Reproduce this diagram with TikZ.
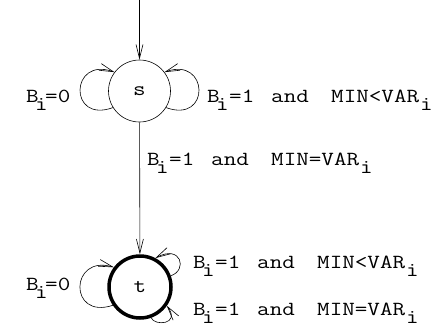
\documentclass[tikz,border=0pt]{standalone}
\usepackage{graphicx}
\usetikzlibrary{arrows.meta}
\newcommand{\wide}[1]{\scalebox{1.22}[1]{#1}}
\newcommand{\lsub}{\raisebox{-8pt}{\wide{i}}}
\newcommand{\lpart}[2]{\rlap{\hspace{#1pt}#2}}
\newcommand{\labA}{\makebox[42pt][l]{\lpart{0}{\wide{B}}\lpart{9}{\lsub}\lpart{19}{\wide{=0}}}}
\newcommand{\labLt}{\makebox[222pt][l]{\lpart{0}{\wide{B}}\lpart{9}{\lsub}\lpart{22}{\wide{=1}}\lpart{64}{\wide{and}}\lpart{124}{\wide{MIN<VAR}}\lpart{213}{\lsub}}}
\newcommand{\labEq}{\makebox[222pt][l]{\lpart{0}{\wide{B}}\lpart{9}{\lsub}\lpart{22}{\wide{=1}}\lpart{64}{\wide{and}}\lpart{124}{\wide{MIN=VAR}}\lpart{213}{\lsub}}}
\begin{document}
\begin{tikzpicture}[x=1pt,y=1pt,
  every node/.style={font=\fontsize{20}{24}\selectfont\ttfamily},
  state/.style={circle,draw,minimum size=62pt,inner sep=0pt,line width=0.6pt},
  final/.style={state,line width=3.5pt},
  arr/.style={line width=0.6pt,-{Straight Barb[length=14pt,width=7pt,line width=0.6pt]}},
  lab/.style={anchor=base west,inner sep=0pt}]
\useasboundingbox (0,0) rectangle (435,330);
\node[state] (s) at (139.5,239) {\wide{s}};
\node[final] (t) at (140,43) {\wide{t}};
\coordinate (init) at (139.5,330);
\draw[arr] (init) -- (s);
\draw[arr] (s) -- (t);
% loops at s
\draw[arr] (s.212) .. controls (68,206) and (70,274) .. (s.143);
\draw[arr] (s.328) .. controls (211,206) and (209,274) .. (s.37);
% loops at t
\draw[arr] (t.214) .. controls (68,10) and (70,76) .. (t.143);
\draw[arr] (t.20) .. controls (188,60) and (181,86) .. (t.62);
\draw[arr] (t.290) .. controls (154,4) and (181,5) .. (t.325);
% labels
\node[lab] (l1) at (26,228) {\labA};
\node[lab] (l2) at (207,228) {\labLt};
\node[lab] (l3) at (147,165) {\labEq};
\node[lab] (l4) at (26,40) {\labA};
\node[lab] (l5) at (193,62) {\labLt};
\node[lab] (l6) at (193,15) {\labEq};
\end{tikzpicture}
\end{document}
